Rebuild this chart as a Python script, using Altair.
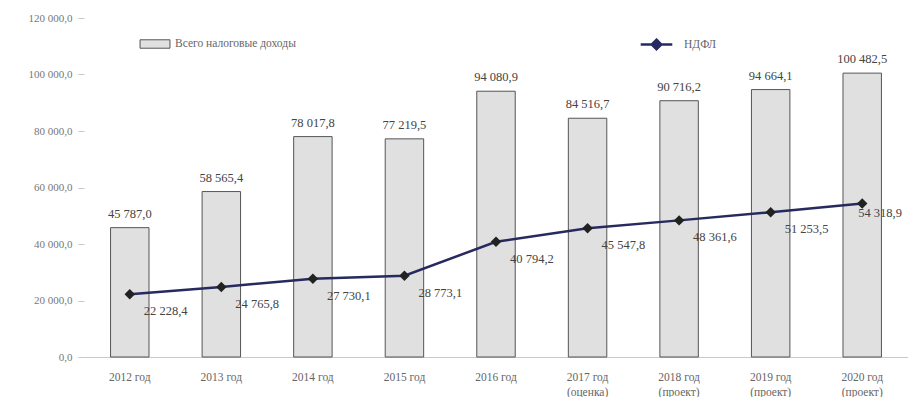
import altair as alt
import pandas as pd

years = ["2012 год", "2013 год", "2014 год", "2015 год", "2016 год",
         "2017 год|(оценка)", "2018 год|(проект)", "2019 год|(проект)", "2020 год|(проект)"]
total = [45787.0, 58565.4, 78017.8, 77219.5, 94080.9, 84516.7, 90716.2, 94664.1, 100482.5]
ndfl = [22228.4, 24765.8, 27730.1, 28773.1, 40794.2, 45547.8, 48361.6, 51253.5, 54318.9]
y_ticks = [0, 20000, 40000, 60000, 80000, 100000, 120000]

bar_name = "Всего налоговые доходы"
line_name = "НДФЛ"

df = pd.DataFrame({"year": years, "total": total, "ndfl": ndfl,
                   "s_bar": bar_name, "s_line": line_name,
                   "last": [0] * (len(years) - 1) + [1]})

FONT = "Liberation Serif"

x = alt.X("year:N", sort=None, title=None,
          scale=alt.Scale(paddingInner=0.58, paddingOuter=0.29),
          axis=alt.Axis(labelExpr="split(datum.label, '|')", labelAngle=0,
                        ticks=False, domain=True, domainColor="#c8c8c8",
                        labelColor="#666", labelFont=FONT, labelFontSize=11.5,
                        labelPadding=14, labelLineHeight=15))
y_scale = alt.Scale(domain=[0, 120000], nice=False)
y_axis = alt.Axis(values=y_ticks, format=",.1f", grid=False, domain=False,
                  tickColor="#c8c8c8", tickSize=6, labelColor="#777",
                  labelFont=FONT, labelFontSize=11, labelPadding=6)

base = alt.Chart(df)

bars = base.mark_bar(stroke="#555", strokeWidth=1).encode(
    x=x,
    y=alt.Y("total:Q", scale=y_scale, axis=y_axis, title=None),
    fill=alt.Fill("s_bar:N", scale=alt.Scale(range=["#e0e0e0"]),
                  legend=alt.Legend(title=None, orient="none", legendX=61, legendY=16,
                                    symbolType="M-1.6,-0.45H1.6V0.45H-1.6Z",
                                    symbolSize=350, symbolStrokeColor="#555",
                                    symbolStrokeWidth=1, labelFont=FONT,
                                    labelFontSize=11.5, labelColor="#666",
                                    labelOffset=10)),
)

bar_text = base.mark_text(baseline="bottom", dy=-7, font=FONT, fontSize=12.5,
                          color="#444").encode(
    x=x, y=alt.Y("total:Q", scale=y_scale),
    text=alt.Text("total:Q", format=",.1f"))

line = base.mark_line(strokeWidth=2.5).encode(
    x=x, y=alt.Y("ndfl:Q", scale=y_scale),
    stroke=alt.Stroke("s_line:N", scale=alt.Scale(range=["#262a5e"]),
                      legend=alt.Legend(title=None, orient="none", legendX=555, legendY=9,
                                        symbolType="M-1,0H1M0,-0.3L0.3,0L0,0.3L-0.3,0Z",
                                        symbolSize=1000, symbolStrokeWidth=2.5,
                                        symbolFillColor="#262a5e",
                                        labelFont=FONT, labelFontSize=11.5,
                                        labelColor="#666", labelOffset=10)),
)

points = base.mark_point(shape="diamond", filled=True, size=110, color="#222",
                         opacity=1).encode(
    x=x, y=alt.Y("ndfl:Q", scale=y_scale))

line_text = base.transform_filter("datum.last == 0").mark_text(
    align="left", baseline="middle", dx=14, dy=17,
    font=FONT, fontSize=12.5, color="#444").encode(
    x=x, y=alt.Y("ndfl:Q", scale=y_scale),
    text=alt.Text("ndfl:Q", format=",.1f"))

line_text_last = base.transform_filter("datum.last == 1").mark_text(
    align="left", baseline="middle", dx=-4, dy=9,
    font=FONT, fontSize=12.5, color="#444").encode(
    x=x, y=alt.Y("ndfl:Q", scale=y_scale),
    text=alt.Text("ndfl:Q", format=",.1f"))

chart = alt.layer(bars, bar_text, line, points, line_text, line_text_last).resolve_scale(
    fill="independent", stroke="independent"
).properties(
    width=824, height=339,
    autosize=alt.AutoSizeParams(type="none"),
    padding={"left": 76, "top": 10, "right": 0, "bottom": 40},
).configure(
    locale={"number": {"decimal": ",", "thousands": "\u00a0", "grouping": [3],
                       "currency": ["", ""]}}
).configure_legend(
    labelFont=FONT
).configure_view(stroke=None)

chart.save("out.html", embed_options={"renderer": "svg", "actions": False})
